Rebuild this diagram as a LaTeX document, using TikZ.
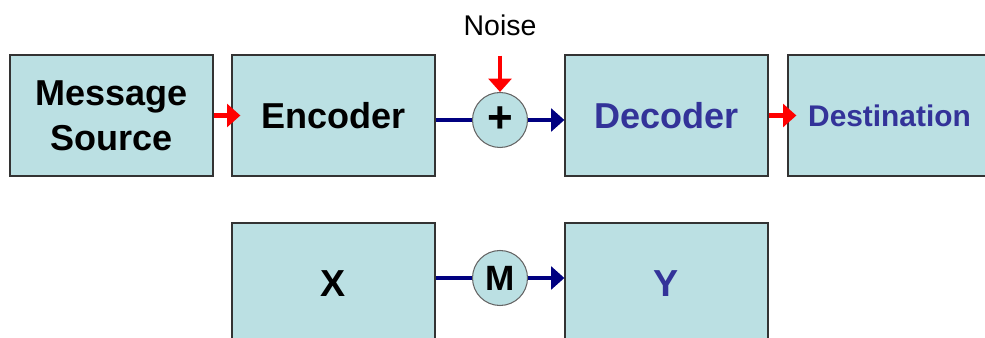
\documentclass[tikz,border=0pt]{standalone}
\usepackage{fontspec}
\setmainfont{Liberation Sans}
\usetikzlibrary{arrows.meta}
\definecolor{boxfill}{HTML}{BBE0E3}
\definecolor{boxline}{HTML}{333333}
\definecolor{navy}{HTML}{000080}
\definecolor{txtblue}{HTML}{333399}

\begin{document}
\begin{tikzpicture}[x=1cm,y=1cm,>={Triangle[length=7.6pt,width=13pt]},
  block/.style={draw=boxline,line width=0.7pt,fill=boxfill,minimum width=4.06cm,
    minimum height=2.42cm,inner sep=0pt,align=center,font=\bfseries\fontsize{20.5}{25.6}\selectfont},
  sumnode/.style={draw=black!60,line width=0.6pt,fill=boxfill,circle,minimum size=1.1cm,
    inner sep=0pt},
  redline/.style={draw=red,line width=2.5pt,->},
  navyline/.style={draw=navy,line width=2.5pt}]
\useasboundingbox (0,0) rectangle (19.7,6.76);
\clip (0,0) rectangle (19.7,6.76);
% top row
\node[block] (source) at (2.23,4.45) {Message\\Source};
\node[block] (encoder) at (6.67,4.45) {Encoder};
\node[block,text=txtblue] (decoder) at (13.33,4.45) {Decoder};
\node[block,text=txtblue,font=\bfseries\fontsize{17}{20}\selectfont] (dest) at (17.79,4.45) {Destination};
\node[sumnode,font=\bfseries\fontsize{25}{28}\selectfont] (plus) at (10,4.36) {+};
\node[anchor=base,inner sep=0pt,font=\fontsize{16.2}{19}\selectfont] (noise) at (10,6.04) {Noise};
\draw[redline,shorten >=-0.18cm] (source) -- (encoder);
\draw[redline,shorten >=-0.18cm] (decoder) -- (dest);
\draw[redline,shorten <=0.38cm] (noise.south) -- (plus);
\draw[navyline] (encoder.east |- plus) -- (plus);
\draw[navyline,->] (plus) -- (decoder.west |- plus);
% bottom row
\node[block,font=\bfseries\fontsize{21.4}{26}\selectfont] (x) at (6.67,1.09) {X};
\node[block,text=txtblue,font=\bfseries\fontsize{21.4}{26}\selectfont] (y) at (13.33,1.09) {Y};
\node[sumnode,font=\bfseries\fontsize{20}{24}\selectfont] (m) at (10,1.2) {M};
\draw[navyline] (x.east |- m) -- (m);
\draw[navyline,->] (m) -- (y.west |- m);
\end{tikzpicture}
\end{document}
